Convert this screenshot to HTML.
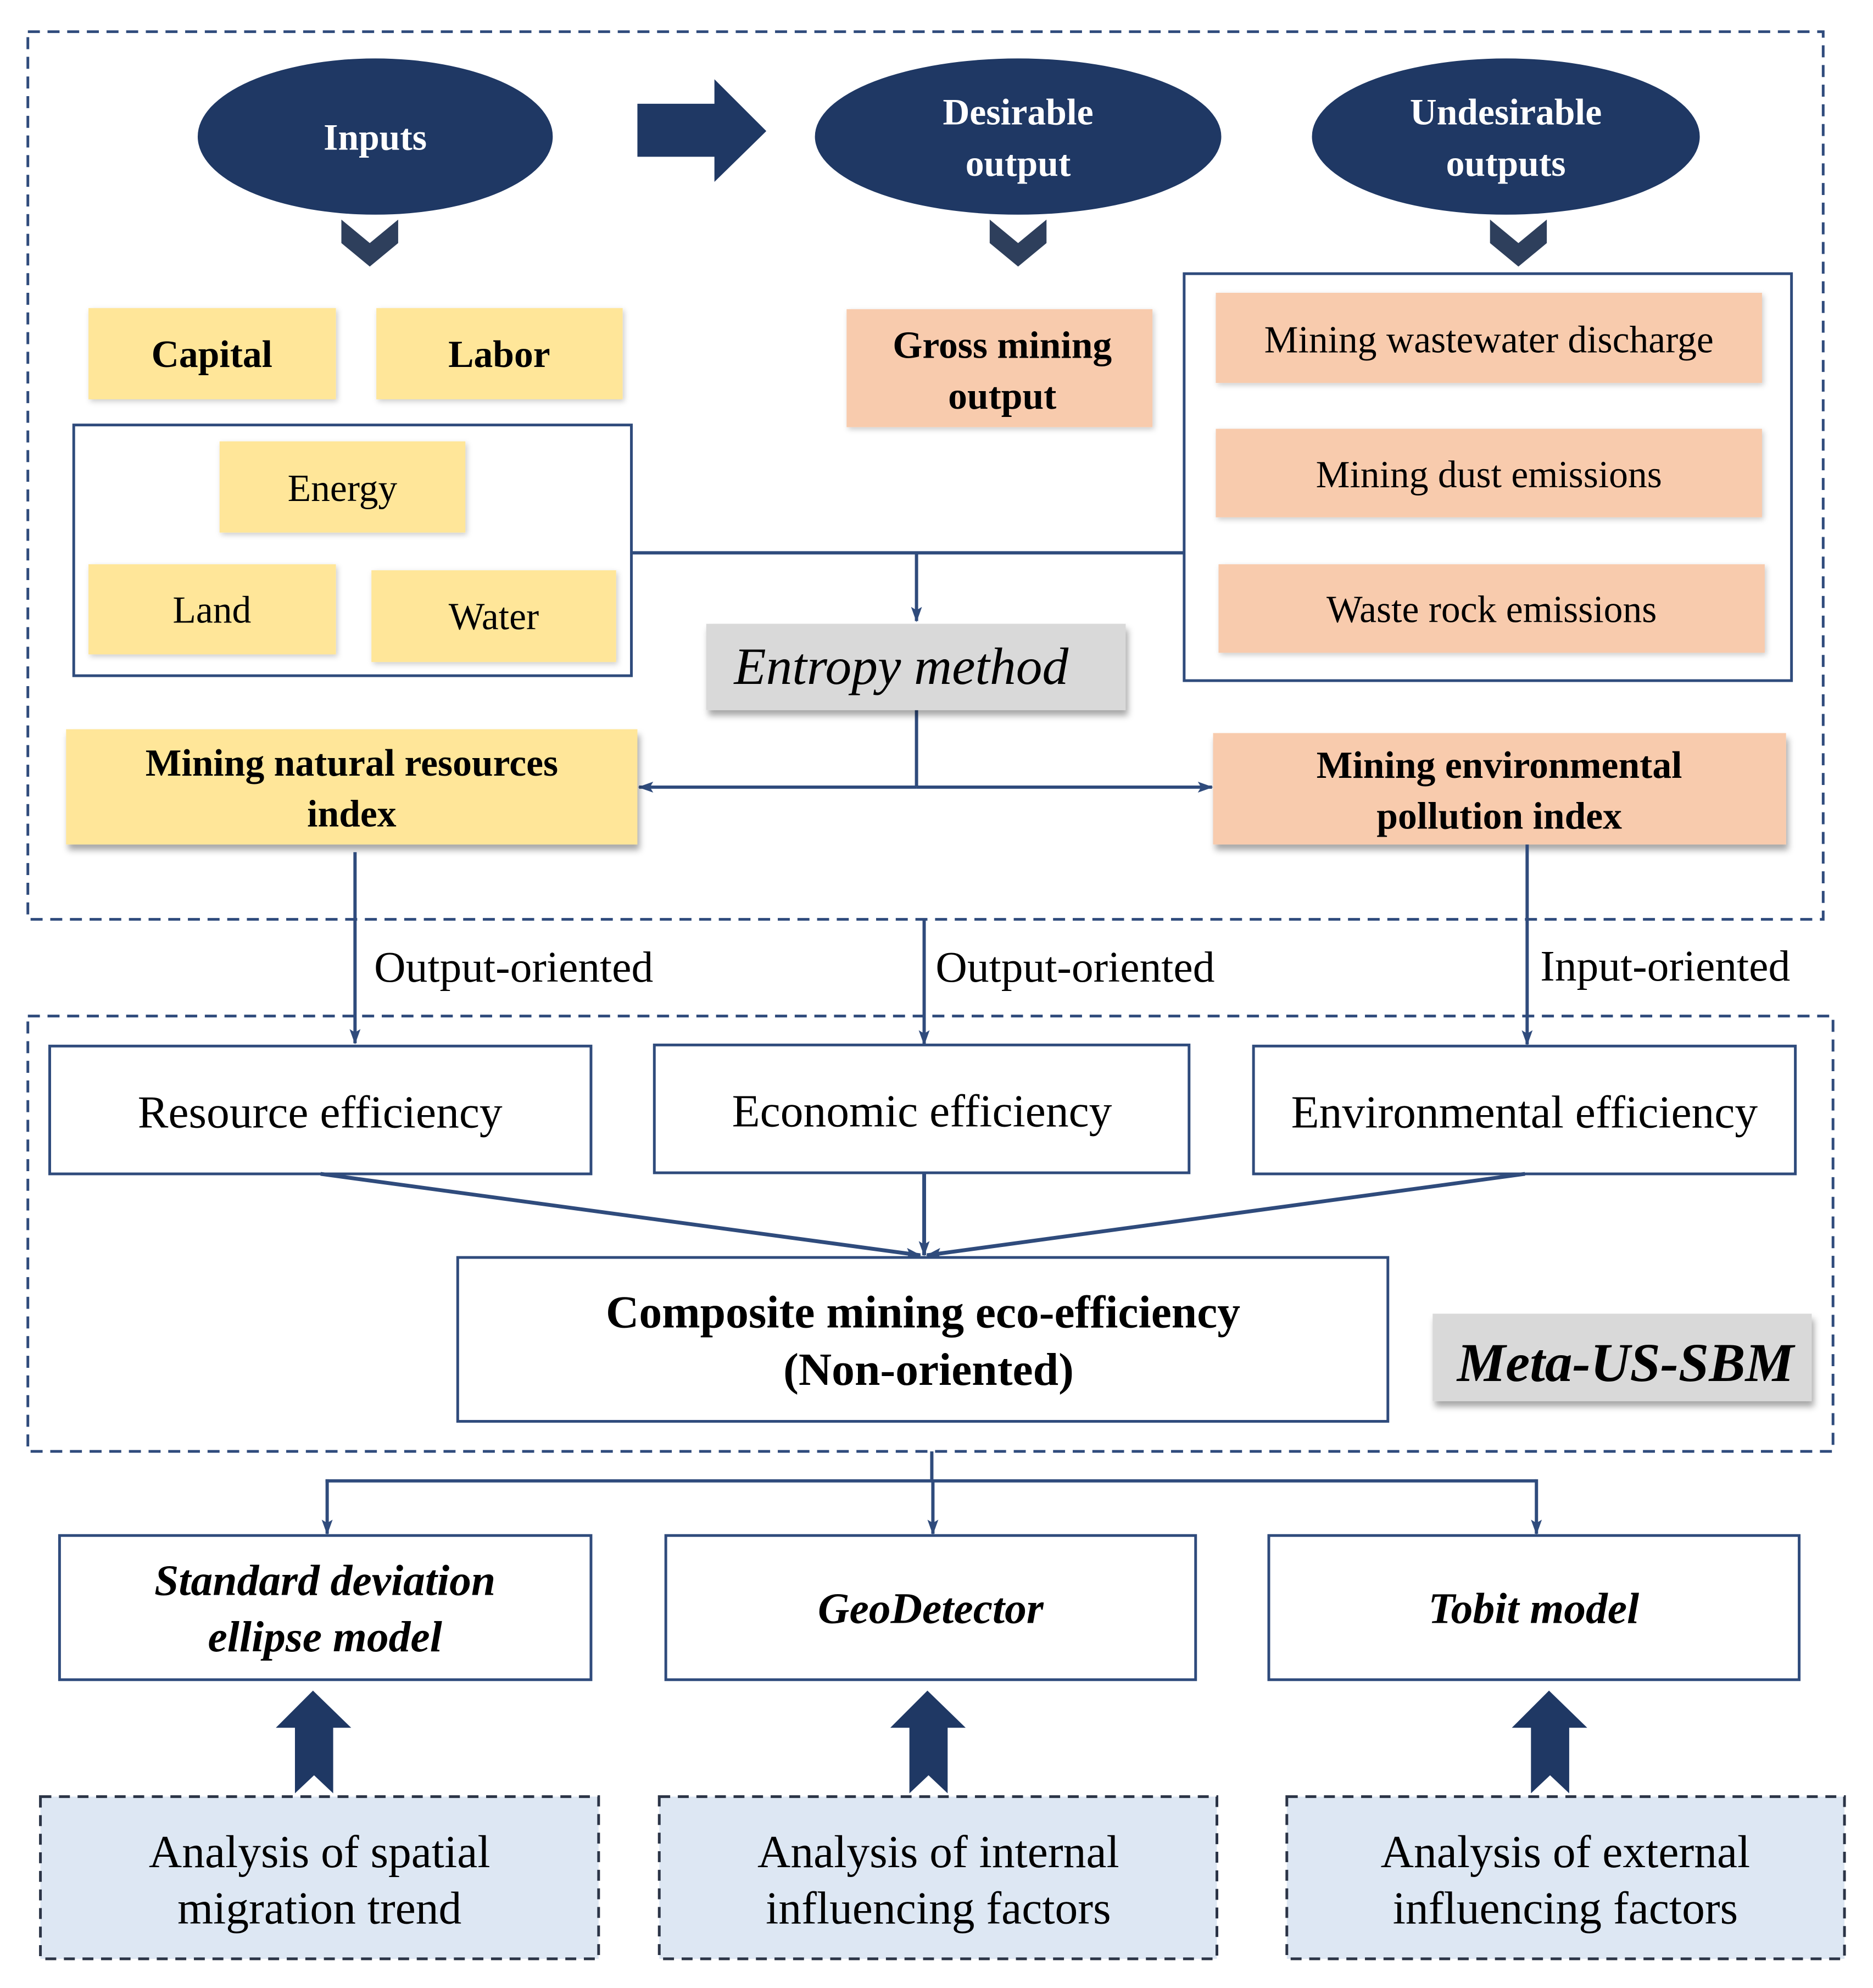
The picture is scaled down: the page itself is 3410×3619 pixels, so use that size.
<!DOCTYPE html>
<html><head><meta charset="utf-8"><style>
html,body{margin:0;padding:0;background:#fff}
svg{display:block}
text{font-family:"Liberation Serif",serif;}
</style></head><body>
<svg width="3410" height="3619" viewBox="0 0 3410 3619" xmlns="http://www.w3.org/2000/svg">
<defs>
<marker id="ah2" markerWidth="28" markerHeight="28" refX="26" refY="14" orient="auto" markerUnits="userSpaceOnUse">
<path d="M0,4 L28,14 L0,24 L6,14 Z" fill="#2f4b7c"/></marker>
<filter id="sh" x="-5%" y="-10%" width="115%" height="140%"><feDropShadow dx="4" dy="10" stdDeviation="6" flood-color="#000" flood-opacity="0.35"/></filter>
<filter id="sh2" x="-5%" y="-10%" width="115%" height="140%"><feDropShadow dx="3" dy="4" stdDeviation="5" flood-color="#000" flood-opacity="0.2"/></filter>
</defs>
<rect width="3410" height="3619" fill="#fff"/>
<g transform="scale(0.9944)">
<rect x="51" y="58" width="3287" height="1625" fill="none" stroke="#2f4b7c" stroke-width="5" stroke-dasharray="22,14"/>

<ellipse cx="687" cy="250" rx="325" ry="143" fill="#1f3864"/>
<ellipse cx="1864" cy="250" rx="372" ry="143" fill="#1f3864"/>
<ellipse cx="2757" cy="250" rx="355" ry="143" fill="#1f3864"/>
<g fill="#fff" font-weight="bold" font-size="68" text-anchor="middle">
<text x="687" y="274">Inputs</text>
<text x="1864" y="228">Desirable</text>
<text x="1864" y="322">output</text>
<text x="2757" y="228">Undesirable</text>
<text x="2757" y="322">outputs</text>
</g>
<path d="M1167,190 H1308 V145 L1403,240 L1308,333 V287 H1167 Z" fill="#1f3864"/>
<g fill="#2e3f5c">
<path d="M625,402 L677,445 L729,402 V445 L677,488 L625,445 Z"/>
<path d="M1812,402 L1864,445 L1916,402 V445 L1864,488 L1812,445 Z"/>
<path d="M2728,402 L2780,445 L2832,402 V445 L2780,488 L2728,445 Z"/>
</g>

<g fill="#ffe699" filter="url(#sh2)">
<rect x="162" y="564" width="453" height="167"/>
<rect x="689" y="564" width="451" height="167"/>
</g>
<rect x="135" y="778" width="1021" height="459" fill="none" stroke="#2f4b7c" stroke-width="5"/>
<g fill="#ffe699" filter="url(#sh2)">
<rect x="402" y="808" width="450" height="167"/>
<rect x="162" y="1033" width="453" height="165"/>
<rect x="680" y="1044" width="448" height="168"/>
</g>
<g font-size="70" text-anchor="middle" fill="#000">
<text x="388" y="672" font-weight="bold">Capital</text>
<text x="914" y="672" font-weight="bold">Labor</text>
<text x="627" y="917">Energy</text>
<text x="388" y="1140">Land</text>
<text x="904" y="1152">Water</text>
</g>

<rect x="1550" y="566" width="560" height="216" fill="#f8cbad" filter="url(#sh2)"/>
<text x="1835" y="655" font-size="70" font-weight="bold" text-anchor="middle">Gross  mining</text>
<text x="1835" y="748" font-size="70" font-weight="bold" text-anchor="middle">output</text>

<rect x="2168" y="501" width="1112" height="745" fill="none" stroke="#2f4b7c" stroke-width="5"/>
<g fill="#f8cbad" filter="url(#sh2)">
<rect x="2226" y="536" width="1000" height="165"/>
<rect x="2226" y="785" width="1000" height="162"/>
<rect x="2231" y="1033" width="1000" height="162"/>
</g>
<g font-size="70" text-anchor="middle">
<text x="2726" y="645">Mining wastewater  discharge</text>
<text x="2726" y="892">Mining  dust  emissions</text>
<text x="2731" y="1139">Waste rock emissions</text>
</g>

<g stroke="#2f4b7c" stroke-width="6" fill="none">
<line x1="1156" y1="1012" x2="2168" y2="1012"/>
<line x1="1678" y1="1012" x2="1678" y2="1137" marker-end="url(#ah2)"/>
<line x1="1678" y1="1300" x2="1678" y2="1441"/>
<line x1="1678" y1="1441" x2="1170" y2="1441" marker-end="url(#ah2)"/>
<line x1="1678" y1="1441" x2="2219" y2="1441" marker-end="url(#ah2)"/>
</g>
<rect x="1293" y="1142" width="768" height="158" fill="#d9d9d9" filter="url(#sh)"/>
<text x="1650" y="1252" font-size="96" font-style="italic" text-anchor="middle">Entropy method</text>

<rect x="121" y="1335" width="1046" height="211" fill="#ffe699" filter="url(#sh)"/>
<text x="644" y="1420" font-size="70" font-weight="bold" text-anchor="middle">Mining natural resources</text>
<text x="644" y="1513" font-size="70" font-weight="bold" text-anchor="middle">index</text>
<rect x="2221" y="1342" width="1049" height="204" fill="#f8cbad" filter="url(#sh)"/>
<text x="2745" y="1424" font-size="70" font-weight="bold" text-anchor="middle">Mining environmental</text>
<text x="2745" y="1517" font-size="70" font-weight="bold" text-anchor="middle">pollution index</text>

<g stroke="#2f4b7c" stroke-width="6" fill="none">
<line x1="650" y1="1560" x2="650" y2="1910" marker-end="url(#ah2)"/>
<line x1="1692" y1="1683" x2="1692" y2="1912" marker-end="url(#ah2)"/>
<line x1="2796" y1="1546" x2="2796" y2="1912" marker-end="url(#ah2)"/>
</g>
<g font-size="80">
<text x="685" y="1797">Output-oriented</text>
<text x="1713" y="1797">Output-oriented</text>
<text x="2820" y="1795">Input-oriented</text>
</g>

<rect x="51" y="1860" width="3305" height="797" fill="none" stroke="#2f4b7c" stroke-width="5" stroke-dasharray="22,14"/>
<g fill="#fff" stroke="#2f4b7c" stroke-width="5">
<rect x="91" y="1915" width="991" height="234"/>
<rect x="1198" y="1913" width="979" height="234"/>
<rect x="2295" y="1915" width="992" height="234"/>
<rect x="838" y="2302" width="1703" height="300"/>
</g>
<g font-size="84" text-anchor="middle">
<text x="586" y="2064">Resource  efficiency</text>
<text x="1688" y="2062">Economic  efficiency</text>
<text x="2791" y="2064">Environmental  efficiency</text>
<text x="1690" y="2430" font-weight="bold">Composite mining eco-efficiency</text>
<text x="1700" y="2535" font-weight="bold">(Non-oriented)</text>
</g>
<g stroke="#2f4b7c" stroke-width="7" fill="none">
<line x1="587" y1="2149" x2="1685" y2="2298" marker-end="url(#ah2)"/>
<line x1="1692" y1="2147" x2="1692" y2="2298" marker-end="url(#ah2)"/>
<line x1="2792" y1="2149" x2="1697" y2="2298" marker-end="url(#ah2)"/>
</g>
<rect x="2623" y="2405" width="694" height="160" fill="#d9d9d9" filter="url(#sh)"/>
<text x="2976" y="2528" font-size="100" font-weight="bold" font-style="italic" text-anchor="middle">Meta-US-SBM</text>

<g stroke="#2f4b7c" stroke-width="6" fill="none">
<line x1="1706" y1="2657" x2="1706" y2="2711"/>
<line x1="596" y1="2711" x2="2813" y2="2711"/>
<line x1="599" y1="2708" x2="599" y2="2808" marker-end="url(#ah2)"/>
<line x1="1708" y1="2711" x2="1708" y2="2808" marker-end="url(#ah2)"/>
<line x1="2813" y1="2708" x2="2813" y2="2808" marker-end="url(#ah2)"/>
</g>
<g fill="#fff" stroke="#2f4b7c" stroke-width="5">
<rect x="109" y="2811" width="973" height="264"/>
<rect x="1219" y="2811" width="970" height="264"/>
<rect x="2323" y="2811" width="971" height="264"/>
</g>
<g font-size="80" font-weight="bold" font-style="italic" text-anchor="middle">
<text x="595" y="2920">Standard deviation</text>
<text x="595" y="3023">ellipse model</text>
<text x="1704" y="2971">GeoDetector</text>
<text x="2808" y="2971">Tobit model</text>
</g>

<g fill="#1f3864" transform="translate(0,20)">
<path d="M505,3143 L573,3075 L643,3143 H610 V3263 L575,3230 L540,3263 V3143 Z"/>
<path d="M1630,3143 L1698,3075 L1768,3143 H1735 V3263 L1700,3230 L1665,3263 V3143 Z"/>
<path d="M2768,3143 L2836,3075 L2906,3143 H2873 V3263 L2838,3230 L2803,3263 V3143 Z"/>
</g>

<g fill="#dde7f3" stroke="#2b3446" stroke-width="5" stroke-dasharray="20,14">
<rect x="74" y="3289" width="1022" height="297"/>
<rect x="1207" y="3289" width="1021" height="297"/>
<rect x="2356" y="3289" width="1021" height="297"/>
</g>
<g font-size="84" text-anchor="middle">
<text x="585" y="3418">Analysis  of  spatial</text>
<text x="585" y="3521">migration  trend</text>
<text x="1718" y="3418">Analysis  of  internal</text>
<text x="1718" y="3521">influencing  factors</text>
<text x="2866" y="3418">Analysis  of  external</text>
<text x="2866" y="3521">influencing  factors</text>
</g>
</g>
</svg>
</body></html>
